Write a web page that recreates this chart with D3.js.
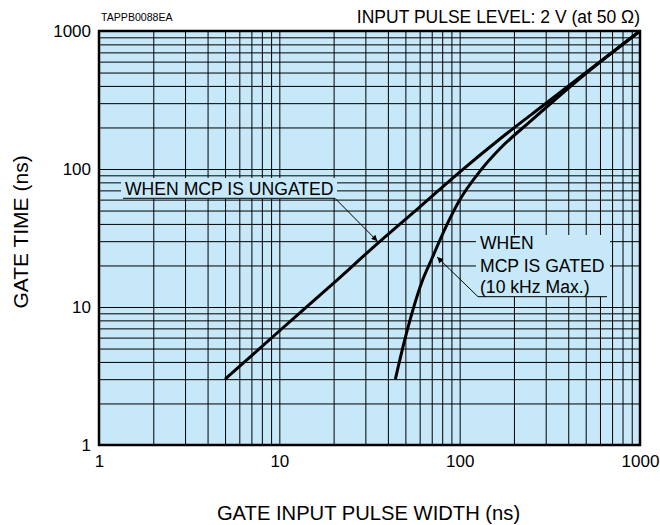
<!DOCTYPE html>
<html lang="en">
<head>
<meta charset="UTF-8">
<title>Gate time vs gate input pulse width</title>
<script src="https://cdn.jsdelivr.net/npm/d3@7"></script>
<style>
  body { margin: 0; background: #fff; }
  svg { font-family: "Liberation Sans", Arial, Helvetica, sans-serif; }
</style>
</head>
<body>
<div id="chart"></div>
<script>
// values (ns)
const xTicks = [1, 10, 100, 1000];
const yTicks = [1, 10, 100, 1000];
const ungatedWidth = [5, 10, 20, 36, 60, 100, 167, 300, 1000];
const ungatedTime  = [3, 6.7, 14.9, 29.8, 53, 95, 165, 298, 1000];
const gatedWidth = [44, 48.4, 55, 62.3, 69.6, 83, 100, 129, 167, 250, 480, 1000];
const gatedTime  = [3, 5.1, 9.5, 15.7, 21.9, 37, 59.6, 95.6, 140, 225, 470, 1000];

const W = 660, H = 525;
const mLeft = 99, mTop = 31, w = 541, h = 414;
const bg = "#c6e8f8";

const svg = d3.select("#chart").append("svg")
  .attr("width", W)
  .attr("height", H);

const g = svg.append("g")
  .attr("transform", `translate(${mLeft}, ${mTop})`);

const x = d3.scaleLog().domain([1, 1000]).range([0, w]);
const y = d3.scaleLog().domain([1, 1000]).range([h, 0]);

g.append("rect")
  .attr("width", w)
  .attr("height", h)
  .attr("fill", bg);

// 1..9 in each decade
const gridVals = [];
for (let k = 0; k < 3; k++) for (let m = 1; m < 10; m++) gridVals.push(m * Math.pow(10, k));

g.append("g")
  .attr("transform", `translate(0, ${h})`)
  .call(d3.axisBottom(x).tickValues(gridVals).tickSize(-h).tickFormat(""))
  .call(a => a.select(".domain").remove())
  .selectAll("line").attr("stroke", "#000").attr("stroke-width", 1);

g.append("g")
  .call(d3.axisLeft(y).tickValues(gridVals).tickSize(-w).tickFormat(""))
  .call(a => a.select(".domain").remove())
  .selectAll("line").attr("stroke", "#000").attr("stroke-width", 1);

// tick labels
g.append("g")
  .attr("transform", `translate(0, ${h})`)
  .attr("font-family", null)
  .attr("font-size", 17)
  .call(d3.axisBottom(x).tickValues(xTicks).tickSize(0).tickPadding(10).tickFormat(d3.format("d")))
  .attr("font-family", null)
  .attr("font-size", 17)
  .call(a => a.select(".domain").remove())
  .selectAll("text").attr("fill", "#000");

g.append("g")
  .call(d3.axisLeft(y).tickValues(yTicks).tickSize(0).tickPadding(8).tickFormat(d3.format("d")))
  .attr("font-family", null)
  .attr("font-size", 17)
  .call(a => a.select(".domain").remove())
  .selectAll("text").attr("fill", "#000");

// curves
const line = d3.line()
  .x(d => x(d[0]))
  .y(d => y(d[1]))
  .curve(d3.curveMonotoneX);

const ungated = ungatedWidth.map((v, i) => [v, ungatedTime[i]]);
const gated = gatedWidth.map((v, i) => [v, gatedTime[i]]);

[ungated, gated].forEach(s => {
  g.append("path")
    .datum(s)
    .attr("d", line)
    .attr("fill", "none")
    .attr("stroke", "#000")
    .attr("stroke-width", 3)
    .attr("stroke-linecap", "butt");
});

// frame
g.append("rect")
  .attr("width", w)
  .attr("height", h)
  .attr("fill", "none")
  .attr("stroke", "#000")
  .attr("stroke-width", 2.5);

// arrow head
svg.append("defs").append("marker")
  .attr("id", "arrow")
  .attr("viewBox", "0 0 10 10")
  .attr("refX", 10).attr("refY", 5)
  .attr("markerWidth", 9).attr("markerHeight", 6)
  .attr("markerUnits", "userSpaceOnUse")
  .attr("orient", "auto")
  .append("path")
  .attr("d", "M0,0 L10,5 L0,10 Z")
  .attr("fill", "#000");

// annotations: box in plot pixels, tip on the curve in data units
const notes = [
  { lines: ["WHEN MCP IS UNGATED"], box: [22, 147, 216, 21], tx: 26, ty: [164],
    under: [24, 236, 167.3], from: [236, 167.3], tip: [35, 30] },
  { lines: ["WHEN", "MCP IS GATED", "(10 kHz Max.)"], box: [377, 204, 134, 62], tx: 381, ty: [218, 240.7, 261.5],
    under: [379, 508, 265.7], from: [379, 265.7], tip: [75, 23] }
];

notes.forEach(n => {
  const a = g.append("g");
  a.append("rect")
    .attr("x", n.box[0]).attr("y", n.box[1])
    .attr("width", n.box[2]).attr("height", n.box[3])
    .attr("fill", bg);
  n.lines.forEach((t, i) => {
    a.append("text")
      .attr("x", n.tx).attr("y", n.ty[i])
      .attr("font-size", 17.6)
      .text(t);
  });
  a.append("line")
    .attr("x1", n.under[0]).attr("x2", n.under[1])
    .attr("y1", n.under[2]).attr("y2", n.under[2])
    .attr("stroke", "#000").attr("stroke-width", 1);
  a.append("line")
    .attr("x1", n.from[0]).attr("y1", n.from[1])
    .attr("x2", x(n.tip[0])).attr("y2", y(n.tip[1]))
    .attr("stroke", "#000").attr("stroke-width", 1)
    .attr("marker-end", "url(#arrow)");
});

// titles
svg.append("text")
  .attr("x", 101).attr("y", 20.7)
  .attr("font-size", 10.6)
  .text("TAPPB0088EA");

svg.append("text")
  .attr("x", 640).attr("y", 22.5)
  .attr("text-anchor", "end")
  .attr("font-size", 17.5)
  .text("INPUT PULSE LEVEL: 2 V (at 50 Ω)");

svg.append("text")
  .attr("x", mLeft + w / 2 - 1).attr("y", 520)
  .attr("text-anchor", "middle")
  .attr("font-size", 20.2)
  .text("GATE INPUT PULSE WIDTH (ns)");

svg.append("text")
  .attr("transform", "translate(28, 232) rotate(-90)")
  .attr("text-anchor", "middle")
  .attr("font-size", 21)
  .text("GATE TIME (ns)");
</script>
</body>
</html>
